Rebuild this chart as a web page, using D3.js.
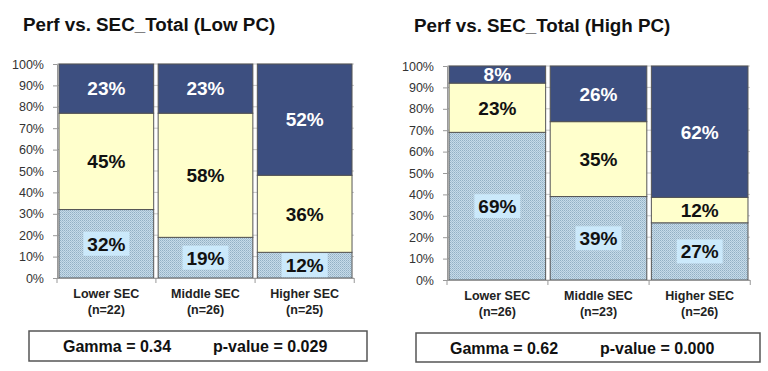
<!DOCTYPE html>
<html>
<head>
<meta charset="utf-8">
<script src="https://cdn.jsdelivr.net/npm/d3@7"></script>
<style>
  body { margin: 0; background: #fff; }
  text { font-family: Arial, "Liberation Sans", sans-serif; }
</style>
</head>
<body>
<div id="my_dataviz"></div>
<script>
// data
var categories = ["Lower SEC", "Middle SEC", "Higher SEC"]
var lowN = [22, 26, 25]
var highN = [26, 23, 26]
var lowBottom = [32, 19, 12]
var lowMid = [45, 58, 36]
var lowTop = [23, 23, 52]
var highBottom = [69, 39, 27]
var highMid = [23, 35, 12]
var highTop = [8, 26, 62]
var yTicks = [0, 10, 20, 30, 40, 50, 60, 70, 80, 90, 100]
var titles = ["Perf vs. SEC_Total (Low PC)", "Perf vs. SEC_Total (High PC)"]
var gammas = ["0.34", "0.62"]
var pvalues = ["0.029", "0.000"]

var svg = d3.select("#my_dataviz")
  .append("svg")
    .attr("width", 768)
    .attr("height", 371)

// dotted light-blue fill for the bottom segment
var defs = svg.append("defs")
var pat = defs.append("pattern")
    .attr("id", "dots")
    .attr("patternUnits", "userSpaceOnUse")
    .attr("width", 2)
    .attr("height", 2)
pat.append("rect").attr("width", 2).attr("height", 2).attr("fill", "#c6dbe9")
pat.append("rect").attr("width", 1).attr("height", 1).attr("fill", "#93b0c4")
pat.append("rect").attr("x", 1).attr("y", 1).attr("width", 1).attr("height", 1).attr("fill", "#a7c1d3")

var segColors = ["url(#dots)", "#ffffcc", "#3d4f80"]
var labelColors = ["#111", "#111", "#fff"]

function drawPanel(opt) {
  var g = svg.append("g")

  var keys = ["bottom", "mid", "top"]
  var rows = categories.map(function(c, i) {
    return {cat: c, n: opt.n[i], bottom: opt.bottom[i], mid: opt.mid[i], top: opt.top[i]}
  })
  var series = d3.stack().keys(keys).offset(d3.stackOffsetExpand)(rows)

  var x = d3.scaleBand()
    .domain(categories)
    .range([opt.left, opt.right])
    .paddingInner(0.045)
    .paddingOuter(0.02)
  var y = d3.scaleLinear()
    .domain([0, 1])
    .range([opt.bottomY, opt.topY])

  // gridlines
  g.append("g")
    .selectAll("line")
    .data(yTicks)
    .enter()
    .append("line")
      .attr("x1", opt.left)
      .attr("x2", opt.right)
      .attr("y1", function(d) { return y(d / 100) })
      .attr("y2", function(d) { return y(d / 100) })
      .attr("stroke", "#c8c8c8")
      .attr("stroke-width", 1)

  // y axis
  var yAxis = g.append("g")
    .attr("transform", "translate(" + opt.left + ",0)")
    .call(d3.axisLeft(y).tickValues(yTicks.map(function(d) { return d / 100 }))
      .tickFormat(function(d) { return Math.round(d * 100) + "%" })
      .tickSize(4).tickPadding(9))
  yAxis.select(".domain").attr("stroke", "#999")
  yAxis.selectAll(".tick line").attr("stroke", "#999")
  yAxis.selectAll(".tick text")
    .attr("font-size", "12.5px")
    .attr("fill", "#333")
    .style("font-family", "Arial, 'Liberation Sans', sans-serif")

  // bars
  series.forEach(function(s, si) {
    g.append("g")
      .selectAll("rect")
      .data(s)
      .enter()
      .append("rect")
        .attr("x", function(d) { return x(d.data.cat) })
        .attr("width", x.bandwidth())
        .attr("y", function(d) { return y(d[1]) })
        .attr("height", function(d) { return y(d[0]) - y(d[1]) })
        .attr("fill", segColors[si])
        .attr("stroke", "#555")
        .attr("stroke-width", 1)
  })

  // x axis line with ticks between categories
  g.append("line")
    .attr("x1", opt.left).attr("x2", opt.right)
    .attr("y1", opt.bottomY + 0.5).attr("y2", opt.bottomY + 0.5)
    .attr("stroke", "#999")
  var edges = [opt.left].concat(categories.map(function(c) { return x(c) + x.bandwidth() + x.step() * x.paddingInner() / 2 }))
  g.append("g")
    .selectAll("line")
    .data(edges)
    .enter()
    .append("line")
      .attr("x1", function(d) { return d }).attr("x2", function(d) { return d })
      .attr("y1", opt.bottomY).attr("y2", opt.bottomY + 5)
      .attr("stroke", "#999")

  // segment labels
  series.forEach(function(s, si) {
    s.forEach(function(d, i) {
      var cx = x(d.data.cat) + x.bandwidth() / 2
      var cy = y((d[0] + d[1]) / 2)
      var val = d.data[keys[si]]
      if (si == 0) {
        g.append("rect")
          .attr("x", cx - 23)
          .attr("y", cy - 12)
          .attr("width", 46)
          .attr("height", 24)
          .attr("fill", "#cbe9fb")
      }
      g.append("text")
        .attr("x", cx)
        .attr("y", cy)
        .attr("dy", "0.36em")
        .attr("text-anchor", "middle")
        .attr("font-size", "19px")
        .attr("font-weight", "bold")
        .attr("fill", labelColors[si])
        .text(val + "%")
    })
  })

  // category labels
  categories.forEach(function(c, i) {
    var cx = x(c) + x.bandwidth() / 2
    g.append("text")
      .attr("x", cx)
      .attr("y", opt.bottomY + 20)
      .attr("text-anchor", "middle")
      .attr("font-size", "12.5px")
      .attr("font-weight", "bold")
      .attr("fill", "#222")
      .text(c)
    g.append("text")
      .attr("x", cx)
      .attr("y", opt.bottomY + 36)
      .attr("text-anchor", "middle")
      .attr("font-size", "12.5px")
      .attr("font-weight", "bold")
      .attr("fill", "#222")
      .text("(n=" + opt.n[i] + ")")
  })

  // title
  g.append("text")
    .attr("x", opt.titleX)
    .attr("y", opt.titleY)
    .attr("font-size", "18.8px")
    .attr("font-weight", "bold")
    .attr("fill", "#111")
    .text(opt.title)

  // gamma box
  g.append("rect")
    .attr("x", opt.box[0])
    .attr("y", opt.box[1])
    .attr("width", opt.box[2])
    .attr("height", opt.box[3])
    .attr("fill", "#fff")
    .attr("stroke", "#555")
    .attr("stroke-width", 1.5)
  g.append("text")
    .attr("x", opt.box[0] + 34)
    .attr("y", opt.box[1] + 21)
    .attr("font-size", "16px")
    .attr("font-weight", "bold")
    .attr("fill", "#111")
    .text("Gamma = " + opt.gamma)
  g.append("text")
    .attr("x", opt.box[0] + 184)
    .attr("y", opt.box[1] + 21)
    .attr("font-size", "16px")
    .attr("font-weight", "bold")
    .attr("fill", "#111")
    .text("p-value = " + opt.pvalue)
}

drawPanel({
  n: lowN, bottom: lowBottom, mid: lowMid, top: lowTop,
  left: 57, right: 354, topY: 64, bottomY: 278,
  title: titles[0], titleX: 23, titleY: 31,
  box: [29, 331, 338, 30], gamma: gammas[0], pvalue: pvalues[0]
})

drawPanel({
  n: highN, bottom: highBottom, mid: highMid, top: highTop,
  left: 447, right: 750, topY: 66, bottomY: 280,
  title: titles[1], titleX: 414, titleY: 32,
  box: [416, 333, 344, 29], gamma: gammas[1], pvalue: pvalues[1]
})
</script>
</body>
</html>
